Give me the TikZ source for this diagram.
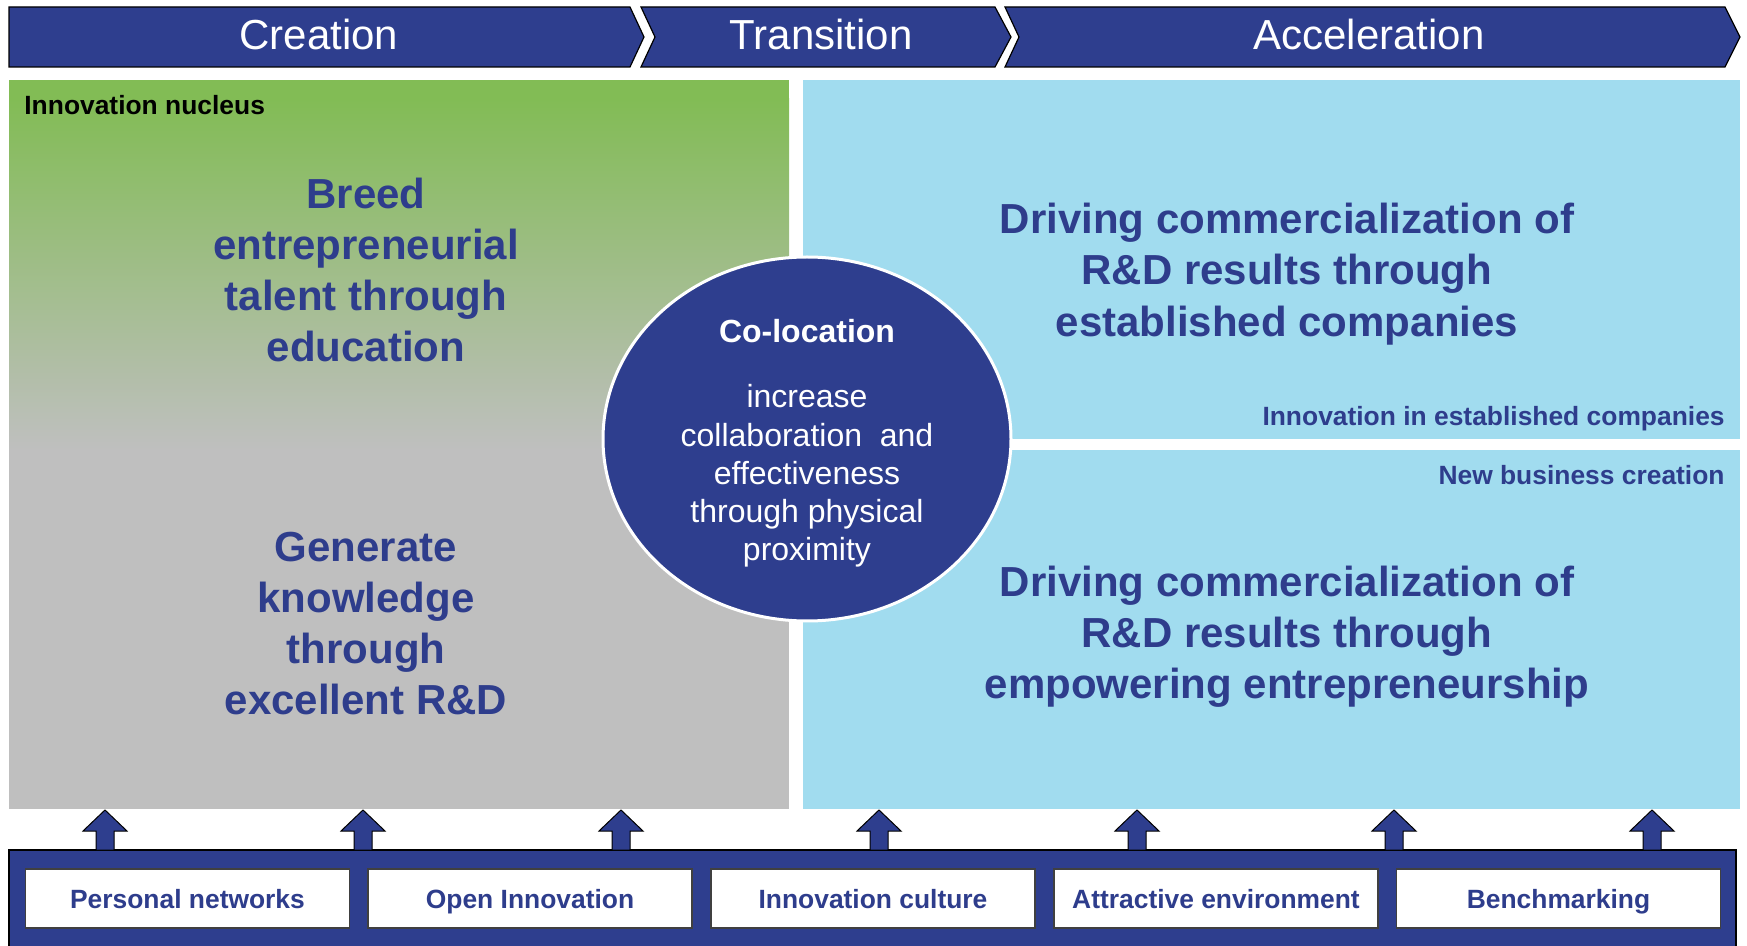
\documentclass[tikz,border=0pt]{standalone}
\usepackage{fontspec}
\setmainfont{Liberation Sans}
\usetikzlibrary{shapes.geometric}
\definecolor{navy}{HTML}{2E3E8E}
\definecolor{txtblue}{HTML}{2E3D8C}
\definecolor{nucgreen}{HTML}{82BC55}
\definecolor{nucgray}{HTML}{BFBFBF}
\definecolor{lightblue}{HTML}{A1DCEF}
\tikzset{
  phase/.style={fill=navy, draw=black, line width=0.6pt},
  phasetext/.style={text=white, font=\fontsize{21}{25}\selectfont, inner sep=0pt},
  bigtext/.style={text=txtblue, font=\bfseries\fontsize{21}{25.6}\selectfont, align=center, inner sep=0pt},
  smalllabel/.style={text=txtblue, font=\bfseries\fontsize{13.2}{16}\selectfont, inner sep=0pt},
  lever/.style={fill=white, draw=black!75, line width=0.6pt, text=txtblue, font=\bfseries\fontsize{13.2}{16}\selectfont, minimum width=162pt, minimum height=29.5pt, inner sep=0pt, text height=9.5pt, text depth=0pt},
  uparrow/.style={fill=navy, draw=black, line width=0.5pt},
}
\begin{document}
\begin{tikzpicture}[x=0.5pt,y=-0.5pt]
\useasboundingbox (0,0) rectangle (1747,946);
% header chevrons
\path[phase] (9,7) -- (630,7) -- (644,37) -- (630,67) -- (9,67) -- cycle;
\path[phase] (641,7) -- (995,7) -- (1011,37) -- (995,67) -- (641,67) -- (655,37) -- cycle;
\path[phase] (1005,7) -- (1725,7) -- (1740,37) -- (1725,67) -- (1005,67) -- (1019,37) -- cycle;
\node[phasetext] (creation) at (319,34) {Creation};
\node[phasetext] (transition) at (821,34) {Transition};
\node[phasetext] (acceleration) at (1369,34) {Acceleration};
% innovation nucleus
\fill[nucgray] (9,449) rectangle (789,809);
\fill[nucgreen] (9,80) rectangle (789,100);
\shade[top color=nucgreen, bottom color=nucgray] (9,99) rectangle (789,450);
\node[anchor=west, inner sep=0pt, font=\bfseries\fontsize{13.2}{16}\selectfont] (nucleus) at (24,105) {Innovation nucleus};
\node[bigtext] (breed) at (366,270) {Breed\\entrepreneurial\\talent through\\education};
\node[bigtext] (generate) at (366,623.5) {Generate\\knowledge\\through\\excellent R\&D};
% acceleration boxes
\fill[lightblue] (803,80) rectangle (1740,439);
\fill[lightblue] (803,450) rectangle (1740,809);
\node[bigtext] (established) at (1287,274) {Driving commercialization of\\R\&D results through\\established companies};
\node[bigtext] (empower) at (1287,637) {Driving commercialization of\\R\&D results through\\empowering entrepreneurship};
\node[smalllabel, anchor=east] (innoest) at (1725,419) {Innovation in established companies};
\node[smalllabel, anchor=east] (newbiz) at (1725,475) {New business creation};
% co-location
\node[ellipse, fill=navy, draw=white, line width=1.5pt, minimum width=204pt, minimum height=182pt] (coloc) at (807,439) {};
\node[text=white, font=\bfseries\fontsize{16}{19}\selectfont, inner sep=0pt] (colt) at (807,331) {Co-location};
\node[text=white, font=\fontsize{16}{19.1}\selectfont, align=center, inner sep=0pt] (colb) at (807,476) {increase\\collaboration\ \ and\\effectiveness\\through physical\\proximity};
% bottom bar
\fill[navy, draw=black, line width=0.6pt] (9,850) rectangle (1736,950);
\node[lever] (l1) at (187.5,898.5) {Personal networks};
\node[lever] (l2) at (530,898.5) {Open Innovation};
\node[lever] (l3) at (873,898.5) {Innovation culture};
\node[lever] (l4) at (1216,898.5) {Attractive environment};
\node[lever] (l5) at (1558.5,898.5) {Benchmarking};
% arrows
\foreach \x in {105,363,621,879,1137,1394,1652}{
  \path[uparrow] (\x,810) -- (\x+22,831) -- (\x+9,831) -- (\x+9,850) -- (\x-9,850) -- (\x-9,831) -- (\x-22,831) -- cycle;
}
\end{tikzpicture}
\end{document}
